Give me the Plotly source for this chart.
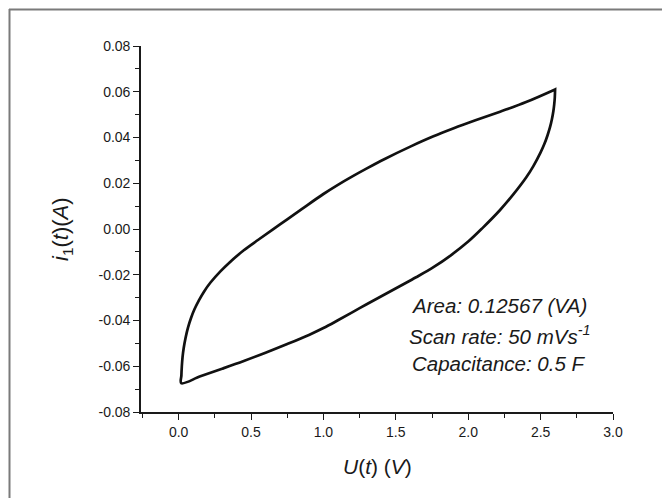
import plotly.graph_objects as go

# Charge (upper) branch: potential U(t) in V, current i1(t) in A
u_up = [0.018, 0.019, 0.022, 0.027, 0.035, 0.048, 0.065, 0.085, 0.110, 0.140, 0.175,
        0.220, 0.290, 0.350, 0.450, 0.550, 0.700, 0.850, 1.000, 1.100, 1.200, 1.300,
        1.420, 1.600, 1.760, 1.900, 2.050, 2.220, 2.400, 2.600]
i_up = [-0.0674, -0.0640, -0.0600, -0.0560, -0.0520, -0.0475, -0.0430, -0.0390, -0.0350,
        -0.0312, -0.0274, -0.0234, -0.0184, -0.0147, -0.0093, -0.0047, 0.0020, 0.0087,
        0.0153, 0.0193, 0.0230, 0.0265, 0.0305, 0.0360, 0.0405, 0.0440, 0.0475, 0.0513,
        0.0555, 0.0610]

# Discharge (lower) branch, going back from the vertex
u_down = [2.600, 2.598, 2.594, 2.588, 2.578, 2.565, 2.548, 2.525, 2.500, 2.450, 2.400,
          2.310, 2.220, 2.100, 2.000, 1.880, 1.760, 1.640, 1.530, 1.400, 1.250, 1.100,
          1.000, 0.900, 0.750, 0.600, 0.450, 0.300, 0.150, 0.018]
i_down = [0.0610, 0.0575, 0.0545, 0.0515, 0.0480, 0.0445, 0.0410, 0.0370, 0.0335, 0.0275,
          0.0225, 0.0150, 0.0083, 0.0005, -0.0055, -0.0115, -0.0167, -0.0211, -0.0249,
          -0.0294, -0.0346, -0.0399, -0.0433, -0.0463, -0.0503, -0.0541, -0.0577, -0.0611,
          -0.0644, -0.0674]

x_tickvals = [0.0, 0.5, 1.0, 1.5, 2.0, 2.5, 3.0]
x_ticktext = ["0.0", "0.5", "1.0", "1.5", "2.0", "2.5", "3.0"]
y_tickvals = [-0.08, -0.06, -0.04, -0.02, 0.00, 0.02, 0.04, 0.06, 0.08]
y_ticktext = ["-0.08", "-0.06", "-0.04", "-0.02", "0.00", "0.02", "0.04", "0.06", "0.08"]

info_lines = ["Area: 0.12567 (VA)", "Scan rate: 50 mVs<sup>-1</sup>", "Capacitance: 0.5 F"]

W, H = 662, 498
ML, MR, MT, MB = 141, 49, 46, 86
PW, PH = W - ML - MR, H - MT - MB

FONT = "Liberation Sans, Arial, sans-serif"
INK = "#1a1a1a"

fig = go.Figure()
fig.add_trace(go.Scatter(x=u_up + u_down, y=i_up + i_down, mode="lines",
                         line=dict(color="#111111", width=2.7, shape="spline", smoothing=1.0),
                         showlegend=False, hoverinfo="skip"))

axis_common = dict(showgrid=False, zeroline=False, showline=True, linecolor=INK, linewidth=1.6,
                   ticks="outside", ticklen=6, tickwidth=1.4, tickcolor=INK,
                   tickfont=dict(family=FONT, size=14, color=INK), mirror=False)

fig.update_xaxes(range=[-0.26, 3.0], tickmode="array", tickvals=x_tickvals, ticktext=x_ticktext,
                 minor=dict(dtick=0.25, tick0=0, ticks="outside", ticklen=4, tickwidth=1.2,
                            tickcolor=INK),
                 **axis_common)
fig.update_yaxes(range=[-0.08, 0.08], tickmode="array", tickvals=y_tickvals, ticktext=y_ticktext,
                 minor=dict(dtick=0.01, tick0=0, ticks="outside", ticklen=4, tickwidth=1.2,
                            tickcolor=INK),
                 **axis_common)

def px_to_paper_x(px):
    return (px - ML) / PW

def px_to_paper_y(py):
    return (H - MB - py) / PH

annotations = []
# axis titles
annotations.append(dict(text="<i>U</i>(<i>t</i>) (<i>V</i>)", xref="paper", yref="paper",
                        x=0.5, y=px_to_paper_y(466), xanchor="center", yanchor="middle",
                        showarrow=False, font=dict(family=FONT, size=21, color=INK)))
annotations.append(dict(text="<i>i</i><sub>1</sub>(<i>t</i>)(<i>A</i>)", xref="paper", yref="paper",
                        x=px_to_paper_x(62), y=0.5, xanchor="center", yanchor="middle",
                        textangle=-90, showarrow=False,
                        font=dict(family=FONT, size=22, color=INK)))
# info text
line_y = [305, 335, 363]
for txt, py in zip(info_lines, line_y):
    annotations.append(dict(text="<i>" + txt + "</i>", xref="paper", yref="paper",
                            x=px_to_paper_x(499), y=px_to_paper_y(py),
                            xanchor="center", yanchor="middle", showarrow=False,
                            font=dict(family=FONT, size=20.5, color=INK)))

# outer frame (left and top edges)
frame_color = "#7a7a7a"
shapes = [
    dict(type="line", xref="paper", yref="paper",
         x0=px_to_paper_x(9.5), x1=px_to_paper_x(9.5),
         y0=px_to_paper_y(9), y1=px_to_paper_y(H + 2),
         line=dict(color=frame_color, width=2)),
    dict(type="line", xref="paper", yref="paper",
         x0=px_to_paper_x(9), x1=px_to_paper_x(W + 2),
         y0=px_to_paper_y(9.5), y1=px_to_paper_y(9.5),
         line=dict(color=frame_color, width=2)),
]

fig.update_layout(width=W, height=H, margin=dict(l=ML, r=MR, t=MT, b=MB),
                  paper_bgcolor="white", plot_bgcolor="white",
                  annotations=annotations, shapes=shapes)

fig.write_html("out.html")
